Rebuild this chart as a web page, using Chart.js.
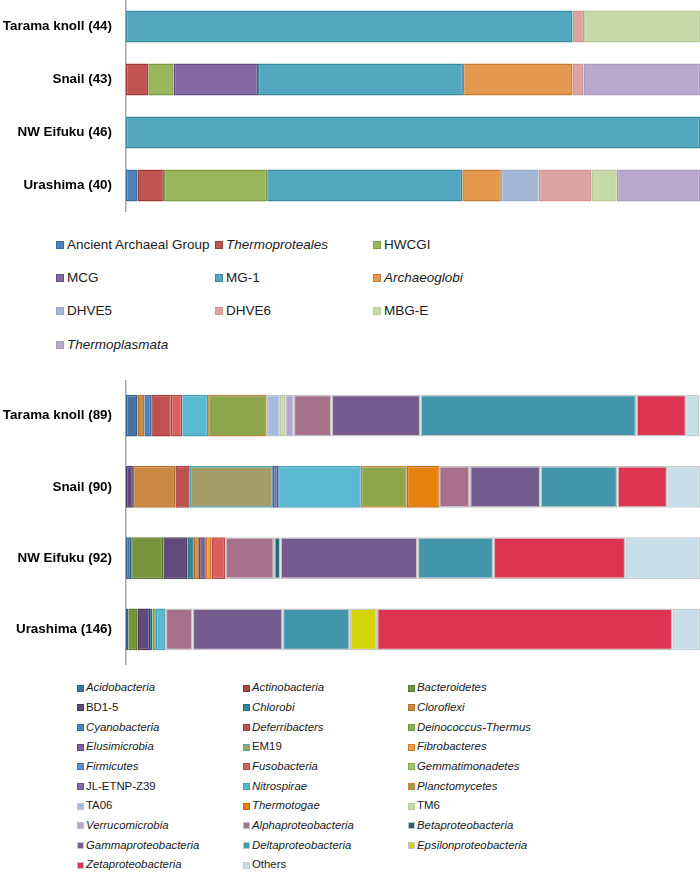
<!DOCTYPE html>
<html>
<head>
<meta charset="utf-8">
<script src="https://cdn.jsdelivr.net/npm/chart.js@4.4.0/dist/chart.umd.min.js"></script>
<style>
body { margin: 0; background: #fff; width: 700px; height: 872px; position: relative; overflow: hidden; font-family: "Liberation Sans", Arial, sans-serif; }
canvas { position: absolute; left: 0; }
#topChart { top: 0; }
#botChart { top: 380px; }
.item { position: absolute; white-space: nowrap; color: #1a1a1a; }
.sw { position: absolute; box-sizing: border-box; border: 1px solid; }
</style>
</head>
<body>
<canvas id="topChart" width="700" height="212"></canvas>
<canvas id="botChart" width="700" height="285"></canvas>
<div id="topLegend"></div>
<div id="botLegend"></div>
<script>
// archaea (top panel), % of clones per site
const archaeaSites = ['Tarama knoll (44)', 'Snail (43)', 'NW Eifuku (46)', 'Urashima (40)'];
const archaeaTaxa = ['Ancient Archaeal Group', 'Thermoproteales', 'HWCGI', 'MCG', 'MG-1',
  'Archaeoglobi', 'DHVE5', 'DHVE6', 'MBG-E', 'Thermoplasmata'];
const archaeaTarama   = [0, 0, 0, 0, 77.8, 0, 0, 2.0, 20.2, 0];
const archaeaSnail    = [0, 3.9, 4.4, 14.7, 35.7, 19.1, 0, 1.9, 0, 20.3];
const archaeaEifuku   = [0, 0, 0, 0, 100, 0, 0, 0, 0, 0];
const archaeaUrashima = [2.0, 4.6, 18.0, 0, 34.0, 6.7, 6.6, 9.2, 4.4, 14.5];

// bacteria (bottom panel)
const bacteriaSites = ['Tarama knoll (89)', 'Snail (90)', 'NW Eifuku (92)', 'Urashima (146)'];
const bacteriaTaxa = ['Acidobacteria', 'Actinobacteria', 'Bacteroidetes', 'BD1-5', 'Chlorobi',
  'Cloroflexi', 'Cyanobacteria', 'Deferribacters', 'Deinococcus-Thermus', 'Elusimicrobia',
  'EM19', 'Fibrobacteres', 'Firmicutes', 'Fusobacteria', 'Gemmatimonadetes',
  'JL-ETNP-Z39', 'Nitrospirae', 'Planctomycetes', 'TA06', 'Thermotogae',
  'TM6', 'Verrucomicrobia', 'Alphaproteobacteria', 'Betaproteobacteria', 'Gammaproteobacteria',
  'Deltaproteobacteria', 'Epsilonproteobacteria', 'Zetaproteobacteria', 'Others'];
//                          Aci Act Bac BD1 Chl Clo Cya Def Dei Elu EM19 Fib Fir Fus Gem JL  Nit  Pla  TA06 Thg TM6 Ver Alp  Bet Gam  Del  Eps Zet  Oth
const bacteriaTarama   = [2.0, 0, 0,  0,  0, 1.2, 1.2, 3.4, 0, 0,  0,  0,  0, 2.0, 0,  0, 4.5, 10.2, 2.3, 0, 1.0, 1.4, 6.6, 0, 15.5, 37.6, 0, 8.7, 2.3];
const bacteriaSnail    = [0,   0, 0, 1.2, 0, 7.4, 0, 2.5, 0, 0, 14.5, 0,  0, 0,   0, 0.9, 14.4, 8.0, 0, 5.6, 0, 0, 5.4, 0, 12.3, 13.4, 0, 8.7, 5.7];
const bacteriaEifuku   = [0.9, 0, 5.6, 4.2, 1.1, 0.9, 0, 0, 0, 1.2, 0, 1.0, 0, 2.4, 0, 0, 0, 0, 0, 0, 0, 0, 8.5, 1.1, 23.9, 13.2, 0, 23.0, 13.0];
const bacteriaUrashima = [0.4, 0, 1.6, 2.2, 0.4, 0, 0, 0, 0.6, 0, 0, 0, 0, 0, 0, 0, 1.7, 0, 0, 0, 0, 0, 4.7, 0, 15.7, 11.7, 4.7, 51.5, 4.8];

const archaeaFill = ['#4f81bd', '#bf5450', '#9bb75e', '#8368a1', '#52a7bf', '#e3994f', '#a5b7d7', '#dba3a1', '#c7d9a8', '#b6a9cb'];
const archaeaEdge = ['#3b6b9f', '#9c3c39', '#7d9a44', '#654c86', '#3c889f', '#c47b35', '#98aacb', '#cf9593', '#b9cc98', '#a99cbf'];
const archaeaItalic = [false, true, false, false, false, true, false, false, false, true];

const bacteriaFill = ['#44729f', '#a94543', '#77933c', '#5f4a7b', '#31859c', '#cb8843', '#4f81bd', '#bd5250', '#8cad4e', '#7b5fa0',
  '#a59d68', '#f39a4c', '#5a8ed0', '#d9605e', '#a6c46c', '#8467ad', '#5bb8d1', '#8ca64c', '#a6bbdc', '#e8820f',
  '#c9dca5', '#b5a8cb', '#a6708a', '#1f6474', '#745b8e', '#4295aa', '#d4d40c', '#dc3452', '#c8dfe9'];
const bacteriaEdge = ['#34608c', '#8a3230', '#5e7a2c', '#4a3860', '#236b80', '#b06f2a', '#3d6aa0', '#a03c3a', '#77933c', '#604685',
  '#4aa3b8', '#d07a30', '#4070b0', '#b84845', '#8aa855', '#6a4f93', '#46a0b8', '#c8843a', '#bcc4d4', '#c06a00',
  '#b8c8a0', '#c0b8d0', '#c4c4c4', '#c4c4c4', '#c4c4c4', '#c4c4c4', '#c4c4c4', '#c4c4c4', '#c4ccd2'];
const bacteriaItalic = bacteriaTaxa.map(n => !['BD1-5', 'EM19', 'JL-ETNP-Z39', 'TA06', 'TM6', 'Others'].includes(n));

function makeChart(id, sites, taxa, rows, fills, edges, barPct, bw) {
  const datasets = taxa.map((name, i) => ({
    label: name,
    data: rows.map(r => r[i]),
    backgroundColor: fills[i],
    borderColor: edges[i],
    borderWidth: bw,
    borderSkipped: false
  }));
  return new Chart(document.getElementById(id), {
    type: 'bar',
    data: { labels: sites, datasets: datasets },
    options: {
      indexAxis: 'y',
      responsive: false,
      animation: false,
      categoryPercentage: 1,
      barPercentage: barPct,
      layout: { padding: 0 },
      plugins: { legend: { display: false }, tooltip: { enabled: false } },
      scales: {
        x: { stacked: true, min: 0, max: 100, display: false },
        y: {
          stacked: true,
          grid: { display: false, drawTicks: false },
          border: { display: true, color: '#a6a6a6', width: 1.5 },
          ticks: { padding: 14, color: '#000', font: { family: 'Liberation Sans', size: 13.4, weight: 'bold' } },
          afterFit: s => { s.width = 126; s.paddingTop = 0; s.paddingBottom = 0; }
        }
      }
    }
  });
}

makeChart('topChart', archaeaSites, archaeaTaxa,
  [archaeaTarama, archaeaSnail, archaeaEifuku, archaeaUrashima], archaeaFill, archaeaEdge, 0.6, 1.5);
makeChart('botChart', bacteriaSites, bacteriaTaxa,
  [bacteriaTarama, bacteriaSnail, bacteriaEifuku, bacteriaUrashima], bacteriaFill, bacteriaEdge, 0.585, 1.5);

// legends laid out in three columns like the figure
function buildLegend(el, taxa, fills, edges, italics, colX, y0, dy, box, size, gap) {
  const host = document.getElementById(el);
  taxa.forEach((name, i) => {
    const x = colX[i % 3];
    const yc = y0 + Math.floor(i / 3) * dy;
    const sw = document.createElement('div');
    sw.className = 'sw';
    sw.style.cssText = `left:${x}px;top:${yc - box / 2}px;width:${box}px;height:${box}px;background:${fills[i]};border-color:${edges[i]};`;
    const t = document.createElement('div');
    t.className = 'item';
    t.textContent = name;
    t.style.cssText = `left:${x + box + gap}px;top:${yc - size * 0.6}px;font-size:${size}px;line-height:${size * 1.2}px;font-style:${italics[i] ? 'italic' : 'normal'};`;
    host.appendChild(sw);
    host.appendChild(t);
  });
}
buildLegend('topLegend', archaeaTaxa, archaeaFill, archaeaEdge, archaeaItalic, [56, 215, 373], 245, 33.2, 8, 13.5, 3);
buildLegend('botLegend', bacteriaTaxa, bacteriaFill, bacteriaEdge, bacteriaItalic, [77, 243, 408], 688, 19.67, 7, 11.4, 2);
</script>
</body>
</html>
